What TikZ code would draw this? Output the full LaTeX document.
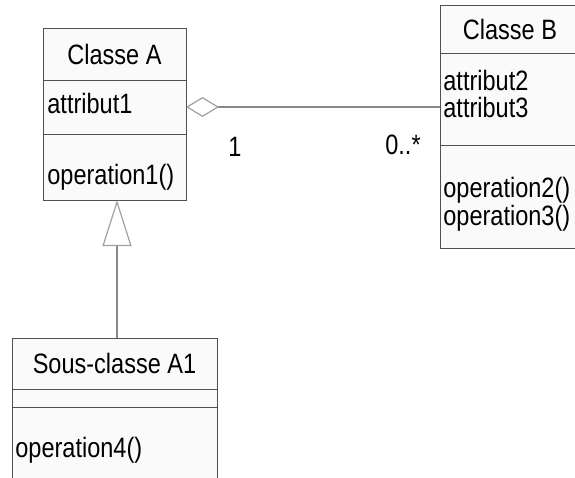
\documentclass[tikz,border=0pt]{standalone}
\usepackage{fontspec}
\setmainfont[FakeStretch=0.84]{Liberation Sans}
\usepackage{tikz}
\usetikzlibrary{arrows.meta}
\usetikzlibrary{positioning}

\definecolor{boxline}{HTML}{505050}
\definecolor{boxfill}{HTML}{FAFAFA}
\definecolor{linkgray}{HTML}{888888}
\definecolor{tipgray}{HTML}{A0A0A0}

\tikzset{
    part/.style={draw=boxline, fill=boxfill, inner sep=0pt, outer sep=0pt},
    title/.style={font=\fontsize{14pt}{16pt}\selectfont, inner sep=0pt},
    member/.style={font=\fontsize{14pt}{16pt}\selectfont, inner sep=0pt, anchor=west},
    mult/.style={font=\fontsize{14pt}{16pt}\selectfont, inner sep=0pt},
    assoc/.style={draw=linkgray, line width=0.6pt},
    inherit/.style={draw=linkgray, line width=0.6pt}
}

\begin{document}
\begin{tikzpicture}[x=0.5pt, y=-0.5pt]
    \useasboundingbox (0,0) rectangle (575,478);
    \clip (0,0) rectangle (575,478);
    \fill[white] (0,0) rectangle (575,478);

    % Classe A
    \node[part, anchor=north west, minimum width=71.5pt, minimum height=26pt] (headA) at (43,28) {};
    \node[part, minimum width=71.5pt, minimum height=27pt, below=0pt of headA] (attrA) {};
    \node[part, minimum width=71.5pt, minimum height=33pt, below=0pt of attrA] (opsA) {};
    \node[title] (nameA) at (headA.center) {Classe A};
    \node[member] (attr1) at (47,103) {attribut1};
    \node[member] (op1) at (47,177) {operation1()};

    % Classe B
    \node[part, anchor=north west, minimum width=70pt, minimum height=24pt] (headB) at (440,5) {};
    \node[part, minimum width=70pt, minimum height=46pt, below=0pt of headB] (attrB) {};
    \node[part, minimum width=70pt, minimum height=51.5pt, below=0pt of attrB] (opsB) {};
    \node[title] (nameB) at (headB.center) {Classe B};
    \node[member] (attr2) at (443,80) {attribut2};
    \node[member] (attr3) at (443,107) {attribut3};
    \node[member] (op2) at (443,190) {operation2()};
    \node[member] (op3) at (443,218) {operation3()};

    % Sous-classe A1
    \node[part, anchor=north west, minimum width=102.5pt, minimum height=25.5pt] (headA1) at (12,338) {};
    \node[part, minimum width=102.5pt, minimum height=9pt, below=0pt of headA1] (attrA1) {};
    \node[part, minimum width=102.5pt, minimum height=45pt, below=0pt of attrA1] (opsA1) {};
    \node[title] (nameA1) at (headA1.center) {Sous-classe A1};
    \node[member] (op4) at (15,450) {operation4()};

    % associations
    \draw[assoc, {Diamond[open, fill=white, length=16.5pt, width=10pt, color=tipgray]}-] (attrA.east) -- (attrA.east -| attrB.west);
    \node[mult] (multA) at (235,147) {1};
    \node[mult] (multB) at (403,145) {0..*};

    \draw[inherit, -{Triangle[open, fill=white, length=23pt, width=14.5pt, color=tipgray]}] ([xshift=1.25pt]headA1.north) -- ([xshift=1.25pt]opsA.south);

\end{tikzpicture}
\end{document}
